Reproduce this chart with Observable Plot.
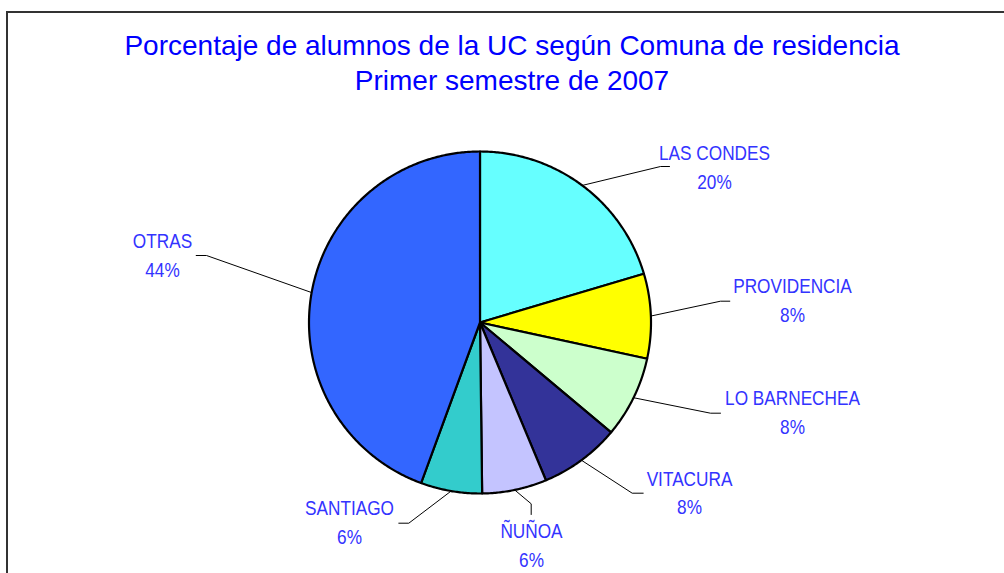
<!DOCTYPE html>
<html>
<head>
<meta charset="utf-8">
<script src="https://cdn.jsdelivr.net/npm/d3@7"></script>
<script src="https://cdn.jsdelivr.net/npm/@observablehq/plot@0.6"></script>
<style>
  html, body { margin: 0; padding: 0; background: #fff; }
  #wrap { position: relative; width: 1004px; height: 573px; overflow: hidden; background: #fff; }
  #frame { position: absolute; left: 6px; top: 11px; width: 1100px; height: 700px; border: 2px solid #333; box-sizing: border-box; }
  #title { position: absolute; left: 7px; width: 1010px; top: 28px; text-align: center; color: #0000ff;
           font-family: "Liberation Sans", Arial, sans-serif; font-size: 28px; line-height: 35px; }
  #chart { position: absolute; left: 0; top: 0; }
</style>
</head>
<body>
<div id="wrap">
  <div id="frame"></div>
  <div id="title">Porcentaje de alumnos de la UC según Comuna de residencia<br>Primer semestre de 2007</div>
  <div id="chart"></div>
</div>
<script>
// ---- data ----
const comunas = ["LAS CONDES", "PROVIDENCIA", "LO BARNECHEA", "VITACURA", "ÑUÑOA", "SANTIAGO", "OTRAS"];
const porcentajes = [20.4, 8.0, 7.7, 7.6, 6.1, 5.8, 44.4];

// ---- styles / layout ----
const palette = ["#66ffff", "#ffff00", "#ccffcc", "#333399", "#c4c4ff", "#33cccc", "#3366ff"];
const W = 1004, H = 573, CX = 479.5, CY = 322, R = 171;
const toU = (px, py) => [(px - CX) / R, (CY - py) / R];
// label layout (pixels): leader elbow, leader end, label block center
const labelLayout = [
  {elbow: [660, 166],   end: [669, 166],   text: [714, 165]},
  {elbow: [720, 300.7], end: [729.3, 300.7], text: [792, 298]},
  {elbow: [710, 412.7], end: [720, 412.7], text: [792, 410]},
  {elbow: [631.7, 492.7], end: [642.7, 492.7], text: [689, 490.5]},
  {elbow: [530.7, 503.3], end: [530.7, 514], text: [531, 543]},
  {elbow: [408.3, 522.7], end: [398.3, 522.7], text: [349, 520]},
  {elbow: [206, 255],   end: [195.7, 255], text: [162, 253]}
];

const total = d3.sum(porcentajes);
const arcs = d3.pie().sort(null).value(d => d)(porcentajes);

// slice polygons
const slicePts = [];
arcs.forEach((a, i) => {
  const name = comunas[i];
  slicePts.push({name, x: 0, y: 0});
  const n = Math.max(2, Math.ceil((a.endAngle - a.startAngle) / (Math.PI / 360)));
  for (let k = 0; k <= n; k++) {
    const t = a.startAngle + (a.endAngle - a.startAngle) * k / n;
    slicePts.push({name, x: Math.sin(t), y: Math.cos(t)});
  }
  slicePts.push({name, x: 0, y: 0});
});

// leaders and labels
const leaderPts = [];
const labels = [];
arcs.forEach((a, i) => {
  const name = comunas[i];
  const mid = (a.startAngle + a.endAngle) / 2;
  const L = labelLayout[i];
  const e = toU(...L.elbow), f = toU(...L.end), t = toU(...L.text);
  leaderPts.push({name, x: Math.sin(mid), y: Math.cos(mid)});
  leaderPts.push({name, x: e[0], y: e[1]});
  leaderPts.push({name, x: f[0], y: f[1]});
  labels.push({name, x: t[0], y: t[1], text: name + "\n" + Math.round(porcentajes[i] / total * 100) + "%"});
});

const chart = Plot.plot({
  width: W, height: H,
  margin: 0,
  x: {domain: [(0 - CX) / R, (W - CX) / R], axis: null},
  y: {domain: [(CY - H) / R, CY / R], axis: null},
  color: {domain: comunas, range: palette},
  style: {background: "transparent", overflow: "visible", fontFamily: "'Liberation Sans', Arial, sans-serif"},
  marks: [
    Plot.line(slicePts, {x: "x", y: "y", z: "name", fill: "name", stroke: "#000", strokeWidth: 2.2, strokeLinejoin: "round"}),
    Plot.line(leaderPts, {x: "x", y: "y", z: "name", stroke: "#000", strokeWidth: 1}),
    Plot.text(labels, {x: "x", y: "y", text: "text", fill: "#3333ff", fontSize: 21, lineHeight: 1.35, textAnchor: "middle"})
  ]
});
// narrow the label glyphs (Arial Narrow look)
d3.select(chart).selectAll("g[aria-label=text] text").each(function() {
  const tr = this.getAttribute("transform") || "";
  this.setAttribute("transform", tr + " scale(0.82,1)");
});
document.getElementById("chart").appendChild(chart);
</script>
</body>
</html>
